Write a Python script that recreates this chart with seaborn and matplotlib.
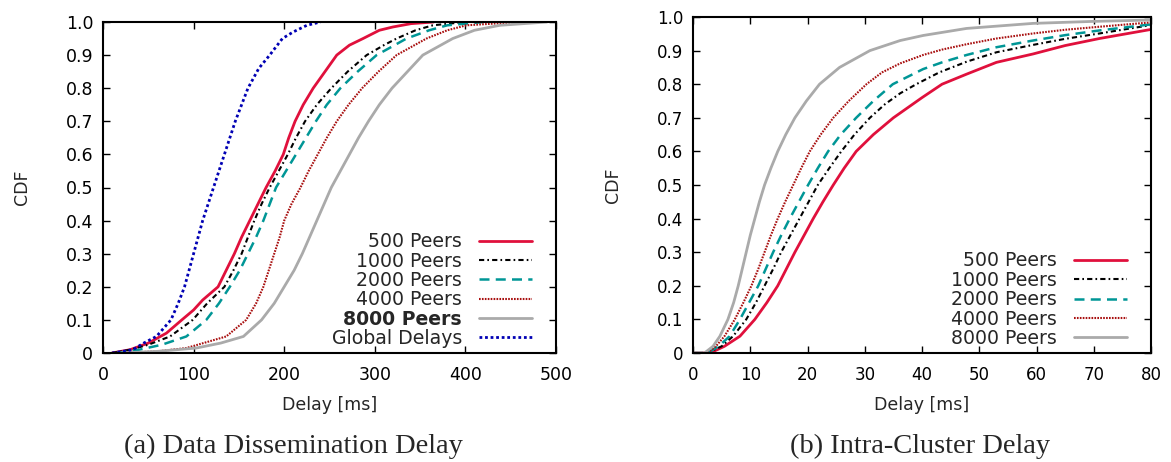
"""
CDF of delays: (a) data dissemination delay, (b) intra-cluster delay.
"""

import numpy as np
import pandas as pd
import seaborn as sns
import matplotlib.pyplot as plt

# (a) Data dissemination delay (delay in ms, CDF)
a_500_x = [10, 30, 50, 70, 87, 100, 110, 127, 136, 145, 153, 162, 171, 180, 190, 199, 205, 212, 221, 232, 245, 258, 272, 287, 305, 320, 340, 365]
a_500_y = [0, 0.01, 0.03, 0.06, 0.1, 0.13, 0.16, 0.2, 0.25, 0.3, 0.35, 0.4, 0.45, 0.5, 0.55, 0.6, 0.65, 0.7, 0.75, 0.8, 0.85, 0.9, 0.93, 0.95, 0.975, 0.985, 0.995, 1.0]
a_1000_x = [10, 30, 50, 74, 99, 115, 134, 144, 153, 160, 167, 175, 184, 194, 204, 213, 223, 236, 252, 270, 291, 310, 324, 345, 364, 400]
a_1000_y = [0, 0.01, 0.025, 0.05, 0.1, 0.15, 0.2, 0.25, 0.3, 0.35, 0.4, 0.45, 0.5, 0.55, 0.6, 0.65, 0.7, 0.75, 0.8, 0.85, 0.9, 0.93, 0.95, 0.975, 0.99, 1.0]
a_2000_x = [15, 40, 65, 92, 114, 128, 140, 151, 160, 169, 177, 184, 191, 202, 213, 224, 235, 247, 262, 281, 302, 335, 360, 380, 420]
a_2000_y = [0, 0.01, 0.025, 0.05, 0.1, 0.15, 0.2, 0.25, 0.3, 0.35, 0.4, 0.45, 0.5, 0.55, 0.6, 0.65, 0.7, 0.75, 0.8, 0.85, 0.9, 0.95, 0.975, 0.99, 1.0]
a_4000_x = [20, 60, 92, 136, 158, 169, 177, 183, 189, 195, 200, 208, 218, 227, 237, 247, 258, 271, 286, 304, 324, 357, 380, 401, 460]
a_4000_y = [0, 0.005, 0.015, 0.05, 0.1, 0.15, 0.2, 0.25, 0.3, 0.35, 0.4, 0.45, 0.5, 0.55, 0.6, 0.65, 0.7, 0.75, 0.8, 0.85, 0.9, 0.95, 0.975, 0.99, 1.0]
a_8000_x = [20, 60, 103, 130, 155, 175, 189, 200, 211, 220, 228, 236, 244, 252, 262, 272, 282, 293, 305, 319, 336, 353, 386, 410, 438, 490]
a_8000_y = [0, 0.005, 0.015, 0.03, 0.05, 0.1, 0.15, 0.2, 0.25, 0.3, 0.35, 0.4, 0.45, 0.5, 0.55, 0.6, 0.65, 0.7, 0.75, 0.8, 0.85, 0.9, 0.95, 0.975, 0.99, 1.0]
a_global_x = [10, 33, 45, 59, 75, 83, 90, 95, 100, 105, 110, 116, 122, 128, 134, 140, 146, 153, 160, 172, 184, 198, 210, 225, 240]
a_global_y = [0, 0.01, 0.03, 0.05, 0.1, 0.15, 0.2, 0.25, 0.3, 0.35, 0.4, 0.45, 0.5, 0.55, 0.6, 0.65, 0.7, 0.75, 0.8, 0.86, 0.9, 0.95, 0.97, 0.99, 1.0]

# (b) Intra-cluster delay (delay in ms, CDF)
b_500_x = [0, 3, 5.5, 8.2, 10.8, 12.9, 14.8, 16.3, 17.8, 19.4, 21, 22.7, 24.5, 26.4, 28.5, 31.5, 35, 40, 43.5, 47.8, 53, 59.4, 65, 71, 80]
b_500_y = [0, 0, 0.02, 0.05, 0.1, 0.15, 0.2, 0.25, 0.3, 0.35, 0.4, 0.45, 0.5, 0.55, 0.6, 0.65, 0.7, 0.76, 0.8, 0.83, 0.865, 0.89, 0.915, 0.936, 0.963]
b_1000_x = [0, 2.5, 5, 7, 9.3, 11, 12.5, 14, 15.4, 17, 18.6, 20.2, 21.8, 23.8, 25.9, 28.2, 30.9, 33.5, 36.2, 39, 43, 47.8, 53, 59.4, 65, 71, 80]
b_1000_y = [0, 0, 0.02, 0.05, 0.1, 0.15, 0.2, 0.25, 0.3, 0.35, 0.4, 0.45, 0.5, 0.55, 0.6, 0.65, 0.7, 0.74, 0.773, 0.8, 0.835, 0.867, 0.895, 0.917, 0.935, 0.951, 0.976]
b_2000_x = [0, 2.5, 4.5, 6.4, 8.2, 9.8, 11.4, 12.7, 14, 15.4, 16.9, 18.5, 20.1, 21.8, 23.6, 25.8, 28.5, 31.5, 34.9, 40.2, 43.5, 47.8, 53, 59.4, 65, 71, 80]
b_2000_y = [0, 0, 0.02, 0.05, 0.1, 0.15, 0.2, 0.25, 0.3, 0.35, 0.4, 0.45, 0.5, 0.55, 0.6, 0.65, 0.7, 0.75, 0.8, 0.845, 0.865, 0.887, 0.91, 0.93, 0.946, 0.96, 0.978]
b_4000_x = [0, 2.5, 4, 5.5, 7.3, 8.8, 10.2, 11.4, 12.5, 13.6, 14.8, 16.1, 17.5, 18.9, 20.4, 22.3, 24.5, 27.2, 30.3, 33, 36.2, 40.2, 43.5, 47.8, 53, 59.4, 65, 71, 80]
b_4000_y = [0, 0, 0.02, 0.05, 0.1, 0.15, 0.2, 0.25, 0.3, 0.35, 0.4, 0.45, 0.5, 0.55, 0.6, 0.65, 0.7, 0.75, 0.8, 0.835, 0.862, 0.887, 0.903, 0.919, 0.936, 0.951, 0.962, 0.971, 0.984]
b_8000_x = [0, 2, 3.5, 4.7, 6.1, 7.1, 7.9, 8.6, 9.3, 10, 10.8, 11.6, 12.5, 13.6, 14.8, 16.2, 17.8, 19.8, 22.1, 25.6, 30.9, 36.2, 40.2, 47.8, 59.4, 70, 80]
b_8000_y = [0, 0, 0.02, 0.05, 0.1, 0.15, 0.2, 0.25, 0.3, 0.35, 0.4, 0.45, 0.5, 0.55, 0.6, 0.65, 0.7, 0.75, 0.8, 0.85, 0.9, 0.93, 0.945, 0.966, 0.981, 0.987, 0.991]

y_ticks = [0, 0.1, 0.2, 0.3, 0.4, 0.5, 0.6, 0.7, 0.8, 0.9, 1.0]
y_tick_labels = ['0', '0.1', '0.2', '0.3', '0.4', '0.5', '0.6', '0.7', '0.8', '0.9', '1.0']

STYLES = {
    '500 Peers': dict(color='#e0103c', linestyle='-', linewidth=2.0),
    '1000 Peers': dict(color='black', linestyle=(0, (2.5, 1.5, 0.8, 1.5)), linewidth=1.5),
    '2000 Peers': dict(color='#009696', linestyle=(0, (4, 2.5)), linewidth=1.8),
    '4000 Peers': dict(color='#a80f0f', linestyle=(0, (0.8, 0.6)), linewidth=1.5),
    '8000 Peers': dict(color='#aaaaaa', linestyle='-', linewidth=2.0),
    'Global Delays': dict(color='#0000b4', linestyle=(0, (1, 1)), linewidth=2.0),
}


def style_axes(ax, xmax, xstep, labelsize):
    ax.set_xlim(0, xmax)
    ax.set_ylim(0, 1)
    ax.set_xticks(np.arange(0, xmax + 1, xstep))
    ax.set_yticks(y_ticks)
    ax.set_yticklabels(y_tick_labels)
    ax.tick_params(direction='in', top=True, right=True, length=5, width=1,
                   labelsize=labelsize, colors='black')
    ax.tick_params(axis='x', pad=9)
    ax.tick_params(axis='y', pad=7)
    for sp in ax.spines.values():
        sp.set_visible(True)
        sp.set_linewidth(1.5)
        sp.set_color('black')
    ax.set_ylabel('CDF', fontsize=12.5, labelpad=25)
    ax.set_xlabel('Delay [ms]', fontsize=12.5, labelpad=9)


def add_legend(ax, anchor):
    leg = ax.legend(loc='lower right', bbox_to_anchor=anchor, frameon=False,
                    markerfirst=False, fontsize=13.6, handlelength=2.8,
                    handletextpad=0.9, labelspacing=0.02, borderpad=0,
                    borderaxespad=0)
    return leg


def main():
    sns.set_style('ticks')
    plt.rcParams['font.family'] = ['DejaVu Sans']

    fig = plt.figure(figsize=(11.71, 4.62), dpi=100)
    ax1 = fig.add_axes([103 / 1171, 109 / 462, 453 / 1171, 331 / 462])
    ax2 = fig.add_axes([693 / 1171, 109 / 462, 458 / 1171, 336 / 462])

    series_a = [
        ('500 Peers', a_500_x, a_500_y),
        ('1000 Peers', a_1000_x, a_1000_y),
        ('2000 Peers', a_2000_x, a_2000_y),
        ('4000 Peers', a_4000_x, a_4000_y),
        ('8000 Peers', a_8000_x, a_8000_y),
        ('Global Delays', a_global_x, a_global_y),
    ]
    series_b = [
        ('500 Peers', b_500_x, b_500_y),
        ('1000 Peers', b_1000_x, b_1000_y),
        ('2000 Peers', b_2000_x, b_2000_y),
        ('4000 Peers', b_4000_x, b_4000_y),
        ('8000 Peers', b_8000_x, b_8000_y),
    ]

    for ax, series in [(ax1, series_a), (ax2, series_b)]:
        for name, xs, ys in series:
            df = pd.DataFrame({'delay': xs, 'cdf': ys})
            sns.lineplot(data=df, x='delay', y='cdf', ax=ax, label=name,
                         estimator=None, sort=False, **STYLES[name])

    style_axes(ax1, 500, 100, 12.5)
    style_axes(ax2, 80, 10, 12)

    leg1 = add_legend(ax1, ((532 - 103) / 453, 0.015))
    leg1.get_texts()[4].set_fontweight('bold')
    add_legend(ax2, ((1127 - 693) / 458, 0.015))

    # sub-figure captions
    fig.text(293 / 1171, 1 - 446 / 462, '(a) Data Dissemination Delay',
             ha='center', va='center', fontsize=20.5, family='Liberation Serif')
    fig.text(920 / 1171, 1 - 446 / 462, '(b) Intra-Cluster Delay',
             ha='center', va='center', fontsize=20.5, family='Liberation Serif')

    fig.savefig('out.png', dpi=100)


if __name__ == "__main__":
    main()
